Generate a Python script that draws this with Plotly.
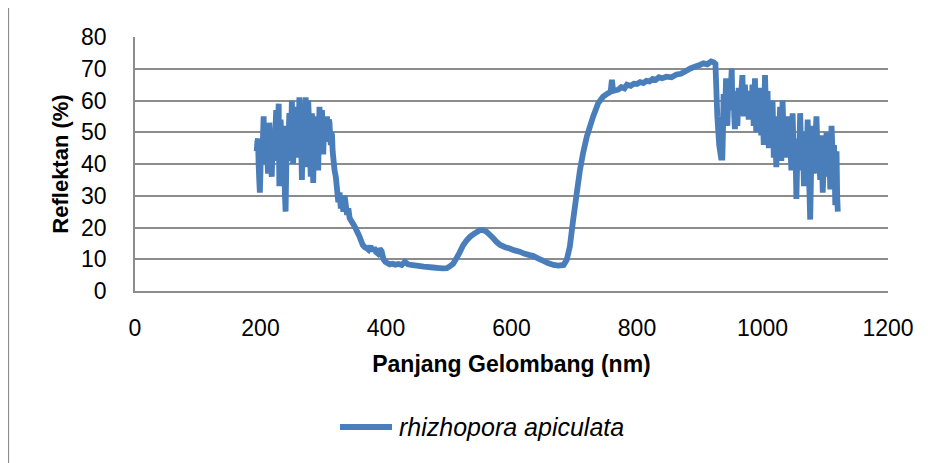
import plotly.graph_objects as go

# --- data ---
wl_uv = list(range(194, 317))
rf_uv = [44,47,48,40,35,31,
         38,46,42,40,49,55,47,42,50,45,
         51,41,37,47,53,49,44,38,36,45,
         50,46,41,48,52,57,47,44,53,59,
         33,42,54,50,45,48,52,44,38,30,
         25,38,49,45,41,50,56,48,44,52,
         60,52,40,47,55,50,47,53,58,49,
         42,52,61,56,50,44,35,47,59,53,
         46,54,61,50,39,48,60,55,52,44,
         36,47,56,42,34,45,51,48,44,50,
         55,46,38,50,58,53,48,52,57,49,
         43,50,54,49,47,52,55,51,50,54,
         53,49,46,50,49,44,42]

wl_vis = [318,320,322,324,326,328,330,332,334,336,338,340,342,345,348,351,354,357,360,363,
          366,369,372,375,378,381,384,387,390,393,396,399,402,406,410,415,420,425,430,435,
          440,449,460,475,485,491,497,502,507,512,517,523,528,534,540,545,550,555,560,565,
          571,576,582,590,597,605,613,620,629,635,643,651,658,667,675,683,688,693,698,704,
          709,714,720,725,730,735,738,746,754,758,760,762,770,775,780,784,790,795,800,805,
          810,815,820,825,830,835,840,847,855,863,870,878,885,892,900,906,912,918,922,925,
          928,931,934]
rf_vis = [38,36,32,28,31,26,29,25,30,27,24,26,23,22,21,20,18.7,17.5,16,14.5,
          13.8,13.5,13,14.2,12.6,13.6,12.3,11.8,13.3,12.5,10,9.2,8.8,8.4,8.6,8.3,8.5,8.2,9.2,8.4,
          8.2,8.0,7.7,7.4,7.2,7.1,7.2,7.8,8.6,10.2,12,14.4,15.8,17.1,18,18.6,19.2,19.2,18.7,17.8,
          16.6,15.5,14.5,13.8,13.4,12.8,12.4,11.8,11.3,11,10.2,9.5,8.8,8.2,8.0,8.2,9.8,14,22,30.8,
          38,43.4,48.6,51.8,54.9,57.5,59.1,61.2,62.3,62.8,66.5,63,63.4,64.2,63.8,65,64.6,65.3,65.2,65.8,
          65.5,66.2,66,66.8,66.5,67.3,67,67.5,67.3,68.2,68.4,69.3,70.1,70.6,71.2,71.7,71.4,72.3,72.0,71.5,
          55,46,42]

wl_nir = list(range(936, 1121))
rf_nir = [42,50,62,58,55,61,67,60,52,58,
          64,60,57,62,66,70,58,61,63,55,
          51,57,60,56,52,58,64,60,56,59,
          62,65,68,60,55,58,65,61,57,60,
          63,58,54,57,61,59,56,60,65,58,
          52,60,67,58,50,55,62,59,55,60,
          64,55,49,54,60,52,46,58,68,61,
          53,57,63,55,45,50,58,54,50,55,
          60,52,42,48,55,46,39,45,52,47,
          44,50,58,49,41,48,60,53,47,50,
          53,46,42,49,55,50,44,47,50,43,
          38,45,56,48,40,44,48,40,29,38,
          46,42,38,47,56,49,41,45,50,42,
          33,40,47,43,39,46,54,45,36,30,
          22.5,33,44,49,52,45,37,42,47,51,
          55,48,40,43,46,39,35,42,49,40,
          31,37,43,40,36,44,50,45,38,41,
          45,39,32,42,52,47,40,43,46,38,
          27,35,44,30,25]

wavelength = wl_uv + wl_vis + wl_nir
reflectance = rf_uv + rf_vis + rf_nir

x_ticks = [0, 200, 400, 600, 800, 1000, 1200]
y_ticks = [0, 10, 20, 30, 40, 50, 60, 70, 80]
series_name = "rhizhopora apiculata"

LINE = "#4a7ebb"
GRID = "#8c8c8c"
FONT = "Liberation Sans"

# page body has an 8px margin: figure origin sits at (8, 8) in the window
OFF = 8
W, H = 936 - OFF, 463 - OFF
PL, PR, PT, PB = 135 - OFF, 888 - OFF, 37 - OFF, 291 - OFF   # plot area in figure px
PW, PH = PR - PL, PB - PT

def px(xv):   # window px -> paper x
    return (xv - OFF - PL) / PW

def py(yv):   # window px -> paper y
    return (PB - (yv - OFF)) / PH

fig = go.Figure()
fig.add_trace(go.Scatter(x=wavelength, y=reflectance, mode="lines",
                         line=dict(color=LINE, width=5.8, simplify=False), name=series_name,
                         showlegend=False, hoverinfo="skip"))

fig.update_layout(
    width=W, height=H,
    margin=dict(l=PL, r=W - PR, t=PT, b=H - PB, pad=0),
    paper_bgcolor="white", plot_bgcolor="white",
    font=dict(family=FONT, size=22, color="black"),
    xaxis=dict(range=[0, 1200], tickvals=x_ticks, ticktext=[str(v) for v in x_ticks],
               showgrid=False, zeroline=False, showline=True, linecolor=GRID, linewidth=1.5,
               ticks="outside", ticklen=16, tickcolor="rgba(0,0,0,0)",
               tickfont=dict(family=FONT, size=23),
               title=dict(text="<b>Panjang Gelombang (nm)</b>", font=dict(family=FONT, size=23),
                          standoff=16)),
    yaxis=dict(range=[0, 80], tickvals=y_ticks, ticktext=[str(v) for v in y_ticks],
               showgrid=True, gridcolor=GRID, gridwidth=1.5, zeroline=False,
               showline=True, linecolor=GRID, linewidth=1.5,
               ticks="outside", ticklen=22, tickcolor="rgba(0,0,0,0)",
               tickfont=dict(family=FONT, size=23),
               title=dict(text="<b>Reflektan (%)</b>", font=dict(family=FONT, size=22),
                          standoff=6)),
)

# chart border (Excel chart area frame)
fig.add_shape(type="rect", xref="paper", yref="paper",
              x0=px(8.5), x1=px(960), y0=py(490), y1=py(7.5),
              line=dict(color="#8c8c8c", width=1.2), fillcolor="rgba(0,0,0,0)", layer="below")

# legend drawn manually (line sample + italic label)
fig.add_shape(type="line", xref="paper", yref="paper",
              x0=px(340), x1=px(392), y0=py(427), y1=py(427),
              line=dict(color=LINE, width=5.8))
fig.add_annotation(xref="paper", yref="paper", x=px(397), y=py(427),
                   text="<i>" + series_name + "</i>", showarrow=False,
                   xanchor="left", yanchor="middle",
                   font=dict(family=FONT, size=25, color="black"))

fig.write_html("out.html")
